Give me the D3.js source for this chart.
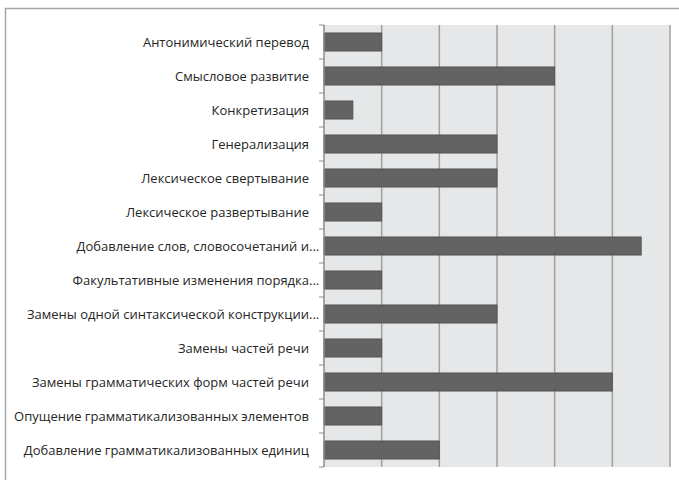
<!DOCTYPE html>
<html>
<head>
<meta charset="utf-8">
<script src="https://cdn.jsdelivr.net/npm/d3@7"></script>
<style>
  html, body { margin: 0; padding: 0; background: #fff; }
  svg { display: block; }
</style>
</head>
<body>
<svg id="chart" width="679" height="480"></svg>
<script>
// Translation transformation categories, top to bottom
const categories = [
  "Антонимический перевод",
  "Смысловое развитие",
  "Конкретизация",
  "Генерализация",
  "Лексическое свертывание",
  "Лексическое развертывание",
  "Добавление слов, словосочетаний и...",
  "Факультативные изменения порядка...",
  "Замены одной синтаксической конструкции...",
  "Замены частей речи",
  "Замены грамматических форм частей речи",
  "Опущение грамматикализованных элементов",
  "Добавление грамматикализованных единиц"
];
const values = [1, 4, 0.5, 3, 3, 1, 5.5, 1, 3, 1, 5, 1, 2];
const xTicks = [0, 1, 2, 3, 4, 5, 6];

const svg = d3.select("#chart");
const plotLeft = 324, plotRight = 670, plotTop = 25, plotBottom = 467;
const labelEdge = 309;

// outer frame
svg.append("rect")
  .attr("x", 5.5).attr("y", 8.5)
  .attr("width", 700).attr("height", 500)
  .attr("fill", "none").attr("stroke", "#a6a6a6").attr("stroke-width", 1.5);

const x = d3.scaleLinear().domain([0, 6]).range([plotLeft, plotRight]);
const y = d3.scaleBand().domain(categories).range([plotTop, plotBottom]).paddingInner(0.47).paddingOuter(0.235);

// plot background
svg.append("rect")
  .attr("x", plotLeft).attr("y", plotTop)
  .attr("width", plotRight - plotLeft).attr("height", plotBottom - plotTop)
  .attr("fill", "#e6e7e8");

// vertical gridlines
svg.append("g")
  .selectAll("line")
  .data(xTicks.slice(1))
  .join("line")
  .attr("x1", d => x(d)).attr("x2", d => x(d))
  .attr("y1", plotTop).attr("y2", plotBottom)
  .attr("stroke", "#a0a0a0").attr("stroke-width", 1.5);

// bars
svg.append("g")
  .selectAll("rect")
  .data(values)
  .join("rect")
  .attr("x", x(0))
  .attr("y", (d, i) => y(categories[i]))
  .attr("width", d => x(d) - x(0))
  .attr("height", y.bandwidth())
  .attr("fill", "#636363")
  .attr("stroke", "#555")
  .attr("stroke-width", 1);

// category axis: line plus ticks at band boundaries
const boundaries = d3.range(categories.length + 1)
  .map(i => plotTop + i * (plotBottom - plotTop) / categories.length);
const axis = svg.append("g");
axis.append("line")
  .attr("x1", plotLeft).attr("x2", plotLeft)
  .attr("y1", plotTop).attr("y2", plotBottom)
  .attr("stroke", "#8c8c8c").attr("stroke-width", 1.5);
axis.selectAll("line.tick")
  .data(boundaries)
  .join("line")
  .attr("class", "tick")
  .attr("x1", plotLeft - 5).attr("x2", plotLeft)
  .attr("y1", d => d).attr("y2", d => d)
  .attr("stroke", "#8c8c8c").attr("stroke-width", 1);

// labels: body right-aligned, a trailing ellipsis hangs past the edge
const labels = axis.selectAll("g.label")
  .data(categories)
  .join("g")
  .attr("class", "label")
  .attr("transform", d => `translate(0,${y(d) + y.bandwidth() / 2})`)
  .attr("font-family", "Open Sans, sans-serif")
  .attr("font-size", 13)
  .attr("fill", "#262626");
labels.append("text")
  .attr("x", labelEdge)
  .attr("dy", "0.35em")
  .attr("text-anchor", "end")
  .text(d => d.endsWith("...") ? d.slice(0, -3) : d);
labels.filter(d => d.endsWith("..."))
  .append("text")
  .attr("x", labelEdge)
  .attr("dy", "0.35em")
  .attr("text-anchor", "start")
  .text("...");
</script>
</body>
</html>
